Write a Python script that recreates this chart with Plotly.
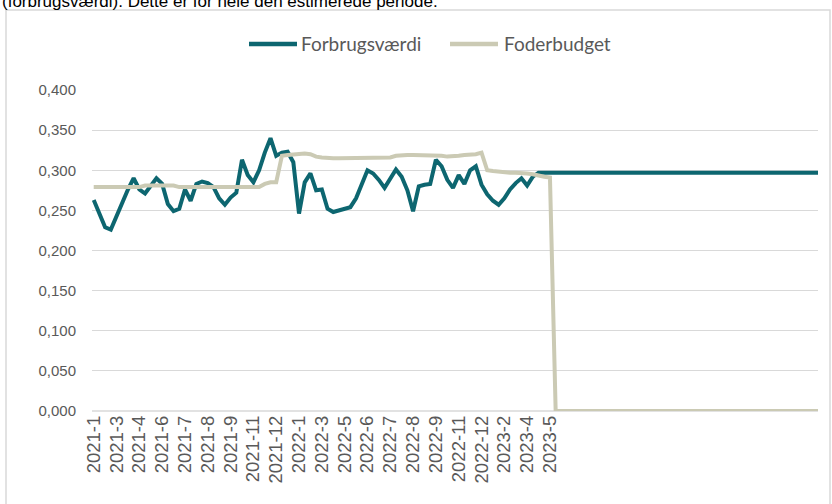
import plotly.graph_objects as go

# ---- data -------------------------------------------------------------
tick_labels = ["2021-1", "2021-3", "2021-4", "2021-6", "2021-7", "2021-8", "2021-9",
               "2021-11", "2021-12", "2022-1", "2022-3", "2022-5", "2022-6", "2022-7",
               "2022-8", "2022-9", "2022-11", "2022-12", "2023-2", "2023-4", "2023-5"]
label_step = 4

forbrugsvaerdi = [
    0.263, 0.245, 0.229, 0.226, 0.243, 0.259, 0.276, 0.290, 0.276, 0.271,
    0.280, 0.290, 0.283, 0.258, 0.249, 0.252, 0.276, 0.262, 0.283, 0.286,
    0.284, 0.279, 0.265, 0.257, 0.266, 0.272, 0.313, 0.294, 0.285, 0.300,
    0.322, 0.340, 0.318, 0.322, 0.323, 0.310, 0.246, 0.285, 0.296, 0.275,
    0.276, 0.252, 0.248, 0.250, 0.253, 0.254, 0.265, 0.282, 0.300, 0.296,
    0.288, 0.278, 0.289, 0.301, 0.292, 0.275, 0.249, 0.280, 0.282, 0.283,
    0.313, 0.305, 0.288, 0.278, 0.294, 0.283, 0.300, 0.305, 0.282, 0.270,
    0.262, 0.257, 0.265, 0.276, 0.284, 0.290, 0.281, 0.292, 0.297, 0.297,
    0.297, 0.297, 0.297, 0.297, 0.297, 0.297, 0.297, 0.297, 0.297, 0.297,
    0.297, 0.297, 0.297, 0.297, 0.297, 0.297, 0.297, 0.297, 0.297, 0.297,
    0.297, 0.297, 0.297, 0.297, 0.297, 0.297, 0.297, 0.297, 0.297, 0.297,
    0.297, 0.297, 0.297, 0.297, 0.297, 0.297, 0.297, 0.297, 0.297, 0.297,
    0.297, 0.297, 0.297, 0.297, 0.297, 0.297, 0.297, 0.297,
]

foderbudget = [
    0.279, 0.279, 0.279, 0.279, 0.279, 0.279, 0.279, 0.279, 0.279, 0.281,
    0.281, 0.281, 0.281, 0.281, 0.281, 0.279, 0.279, 0.279, 0.279, 0.279,
    0.279, 0.279, 0.279, 0.279, 0.279, 0.279, 0.279, 0.279, 0.279, 0.279,
    0.283, 0.285, 0.285, 0.318, 0.319, 0.320, 0.321, 0.321, 0.320, 0.317,
    0.316, 0.315, 0.315, 0.315, 0.315, 0.315, 0.315, 0.315, 0.315, 0.315,
    0.315, 0.315, 0.316, 0.318, 0.319, 0.319, 0.319, 0.319, 0.319, 0.319,
    0.319, 0.318, 0.317, 0.317, 0.318, 0.319, 0.319, 0.320, 0.322, 0.300,
    0.299, 0.298, 0.298, 0.297, 0.297, 0.297, 0.296, 0.295, 0.293, 0.292,
    0.291, 0.0, 0.0, 0.0, 0.0, 0.0, 0.0, 0.0, 0.0, 0.0,
    0.0, 0.0, 0.0, 0.0, 0.0, 0.0, 0.0, 0.0, 0.0, 0.0,
    0.0, 0.0, 0.0, 0.0, 0.0, 0.0, 0.0, 0.0, 0.0, 0.0,
    0.0, 0.0, 0.0, 0.0, 0.0, 0.0, 0.0, 0.0, 0.0, 0.0,
    0.0, 0.0, 0.0, 0.0, 0.0, 0.0, 0.0, 0.0,
]

series_names = ["Forbrugsværdi", "Foderbudget"]
caption = "(forbrugsværdi). Dette er for hele den estimerede periode."

x_index = list(range(len(forbrugsvaerdi)))
tick_positions = x_index[0:len(tick_labels) * label_step:label_step]

# ---- style / layout ---------------------------------------------------
TEAL = "#0D6670"
BEIGE = "#CBCAB4"
GRID = "#D9D9D9"
TXT = "#595959"
colors = [TEAL, BEIGE]

W, H = 832, 504
L, R, T, B = 92, 14, 90, 93
pw, ph = W - L - R, H - T - B


def px_x(px):
    return (px - L) / pw


def px_y(py):
    return (H - B - py) / ph


fig = go.Figure()
for name, vals, col in zip(series_names, [forbrugsvaerdi, foderbudget], colors):
    fig.add_trace(go.Scatter(x=x_index, y=vals, name=name, mode="lines",
                             line=dict(color=col, width=4), showlegend=False))

# custom legend (line sample + real text) placed like the original
legend_y = 44
legend_items = [(249, 297, 299), (450, 498, 502)]
shapes = [
    dict(type="rect", xref="paper", yref="paper",
         x0=px_x(6), x1=px_x(830), y0=px_y(10), y1=px_y(520),
         line=dict(color=GRID, width=1.5), fillcolor="rgba(0,0,0,0)", layer="below"),
    dict(type="line", xref="paper", yref="paper",
         x0=0, x1=1, y0=0, y1=0, line=dict(color=GRID, width=1.5), layer="below"),
]
annotations = [
    dict(text=caption, xref="paper", yref="paper", x=px_x(0), y=px_y(1.0),
         xanchor="left", yanchor="middle", showarrow=False,
         font=dict(family="Liberation Sans, Arial, sans-serif", size=17, color="black")),
]
for (lx0, lx1, tx), name, col in zip(legend_items, series_names, colors):
    shapes.append(dict(type="line", xref="paper", yref="paper",
                       x0=px_x(lx0), x1=px_x(lx1), y0=px_y(legend_y), y1=px_y(legend_y),
                       line=dict(color=col, width=4.5)))
    annotations.append(dict(text=name, xref="paper", yref="paper", x=px_x(tx), y=px_y(legend_y),
                            xanchor="left", yanchor="middle", showarrow=False,
                            font=dict(family="Lato, 'Open Sans', sans-serif", size=19, color=TXT)))

fig.update_layout(
    width=W, height=H,
    margin=dict(l=L, r=R, t=T, b=B, pad=0),
    paper_bgcolor="white", plot_bgcolor="white",
    separators=",.",
    showlegend=False,
    xaxis=dict(range=[-0.3, len(x_index) - 1], tickmode="array",
               tickvals=tick_positions, ticktext=tick_labels, tickangle=-90,
               showgrid=False, zeroline=False, showline=False, ticks="", automargin=False,
               tickfont=dict(family="Liberation Sans, Arial, sans-serif", size=18.5, color=TXT)),
    yaxis=dict(range=[0, 0.4], tick0=0, dtick=0.05, tickformat=".3f",
               showgrid=True, gridcolor=GRID, gridwidth=1, zeroline=False, showline=False,
               ticks="", ticklabelstandoff=15, automargin=False,
               tickfont=dict(family="Liberation Sans, Arial, sans-serif", size=15, color=TXT)),
    shapes=shapes,
    annotations=annotations,
)

fig.write_html("out.html", config={"displayModeBar": False},
               post_script="document.body.style.margin='0';")
